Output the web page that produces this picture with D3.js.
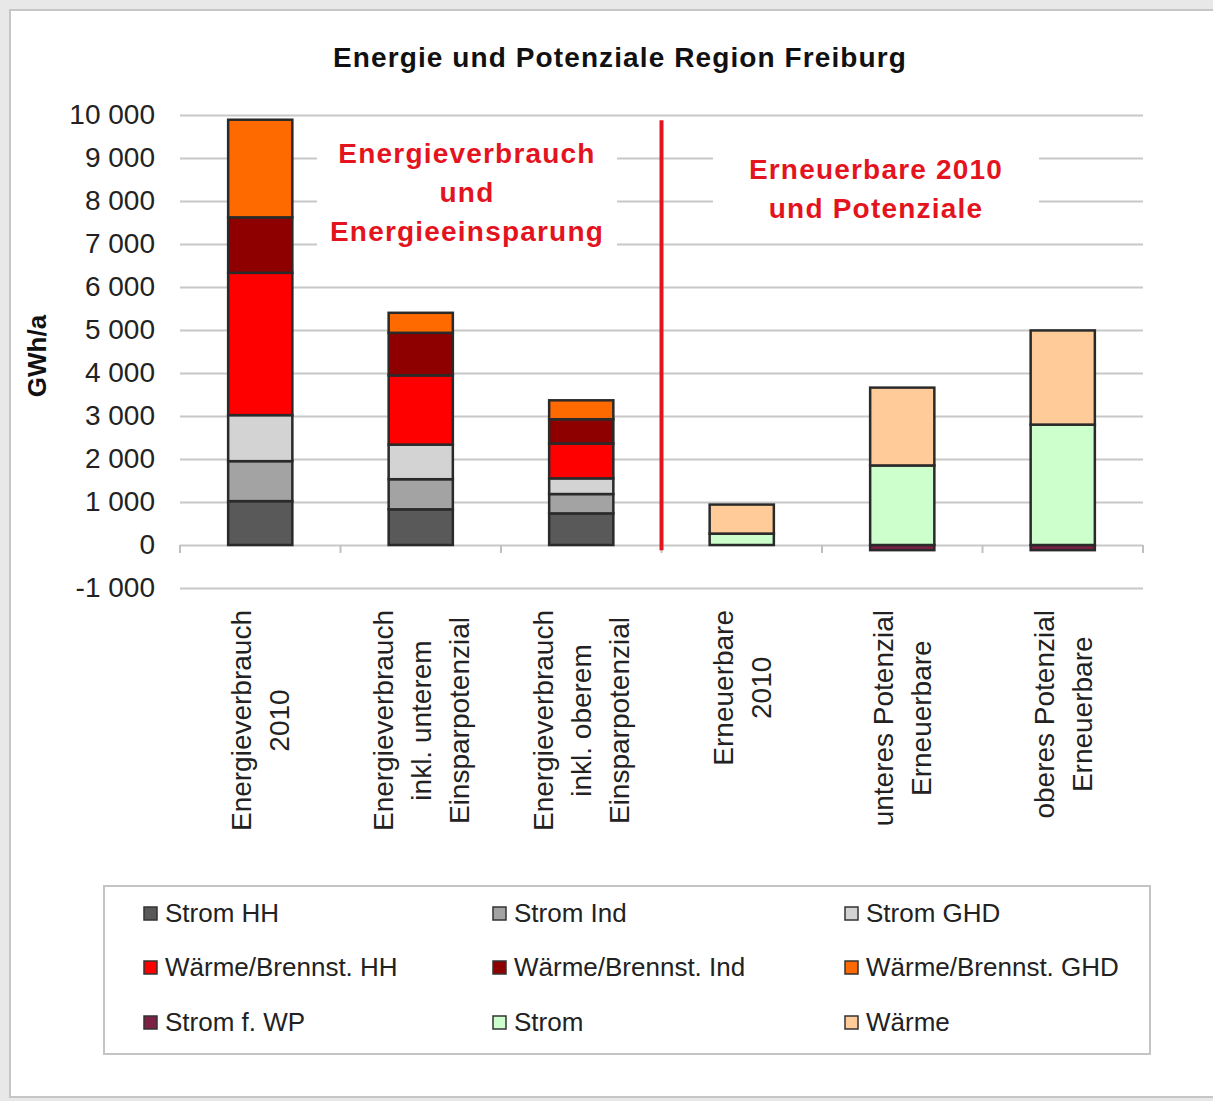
<!doctype html>
<html>
  <head>
    <meta charset="utf-8">
    <script src="https://cdnjs.cloudflare.com/ajax/libs/d3/7.8.5/d3.min.js"></script>
    <style>
      body { margin: 0; background: #e8e8e8; }
      svg { display: block; font-family: "Liberation Sans", Arial, sans-serif; }
    </style>
  </head>
  <body>
    <svg id="chart" width="1213" height="1101"></svg>
    <script>
      // categories (line breaks as in the original axis labels)
      var categories = [
        "Energieverbrauch\n2010",
        "Energieverbrauch\ninkl. unterem\nEinsparpotenzial",
        "Energieverbrauch\ninkl. oberem\nEinsparpotenzial",
        "Erneuerbare\n2010",
        "unteres Potenzial\nErneuerbare",
        "oberes Potenzial\nErneuerbare"
      ];

      // GWh/a
      var stromHH    = [1020,  830,  735,    0,    0,    0];
      var stromInd   = [ 930,  700,  450,    0,    0,    0];
      var stromGHD   = [1070,  805,  365,    0,    0,    0];
      var waermeHH   = [3310, 1610,  810,    0,    0,    0];
      var waermeInd  = [1290,  990,  565,    0,    0,    0];
      var waermeGHD  = [2270,  465,  440,    0,    0,    0];
      var stromWP    = [   0,    0,    0,    0, -120, -120];
      var stromEE    = [   0,    0,    0,  265, 1850, 2800];
      var waermeEE   = [   0,    0,    0,  675, 1810, 2190];

      var seriesNames = ["Strom HH", "Strom Ind", "Strom GHD",
        "Wärme/Brennst. HH", "Wärme/Brennst. Ind", "Wärme/Brennst. GHD",
        "Strom f. WP", "Strom", "Wärme"];
      var seriesValues = [stromHH, stromInd, stromGHD, waermeHH, waermeInd,
        waermeGHD, stromWP, stromEE, waermeEE];
      var seriesColors = ["#595959", "#a3a3a3", "#d3d3d3", "#ff0000", "#8e0000",
        "#ff6a00", "#7d2046", "#ccffcc", "#ffcc99"];

      var yTicks = [-1000, 0, 1000, 2000, 3000, 4000, 5000, 6000, 7000, 8000, 9000, 10000];

      var title = "Energie und Potenziale Region Freiburg";
      var yLabel = "GWh/a";
      var noteLeft = ["Energieverbrauch", "und", "Energieeinsparung"];
      var noteRight = ["Erneuerbare 2010", "und Potenziale"];

      // rows for d3.stack
      var table = categories.map(function(c, i) {
        var row = {cat: c};
        seriesNames.forEach(function(s, j) { row[s] = seriesValues[j][i]; });
        return row;
      });

      var svg = d3.select("#chart");
      var red = "#e3141e";

      svg.append("rect").attr("x", 10).attr("y", 10).attr("width", 1220).attr("height", 1087)
        .attr("fill", "#fff").attr("stroke", "#c6c6c6").attr("stroke-width", 2);

      var x = d3.scaleBand().domain(categories).range([180, 1143]).padding(0);
      var y = d3.scaleLinear().domain([-1000, 10000]).range([588, 115]);
      var barW = x.bandwidth() * 0.4;

      var fmt = d3.formatLocale({decimal: ",", thousands: " ", grouping: [3], currency: ["", ""], minus: "-"}).format(",d");

      // gridlines + tick labels
      var yAxis = d3.axisLeft(y).tickValues(yTicks).tickFormat(fmt)
        .tickSize(-(1143 - 180)).tickPadding(25);
      var gy = svg.append("g").attr("transform", "translate(180,0)").call(yAxis);
      gy.select(".domain").remove();
      gy.selectAll(".tick line").attr("stroke", "#c8c8c8").attr("stroke-width", 2);
      gy.selectAll(".tick text").attr("fill", "#222").style("font-size", "28px");

      // category tick marks on the zero line
      var edges = categories.map(function(c) { return x(c); }).concat([x.range()[1]]);
      svg.append("g").selectAll("line").data(edges).join("line")
        .attr("x1", function(d) { return d; }).attr("x2", function(d) { return d; })
        .attr("y1", y(0)).attr("y2", y(0) + 8)
        .attr("stroke", "#c0c0c0").attr("stroke-width", 2);

      // stacked bars
      var stack = d3.stack().keys(seriesNames).offset(d3.stackOffsetDiverging);
      var layers = stack(table);
      svg.append("g").selectAll("g").data(layers).join("g")
        .attr("fill", function(d, i) { return seriesColors[i]; })
        .selectAll("rect")
        .data(function(d) { return d.filter(function(p) { return p[1] !== p[0]; }); })
        .join("rect")
          .attr("x", function(d) { return x(d.data.cat) + (x.bandwidth() - barW) / 2; })
          .attr("width", barW)
          .attr("y", function(d) { return y(Math.max(d[0], d[1])); })
          .attr("height", function(d) { return Math.abs(y(d[0]) - y(d[1])); })
          .attr("stroke", "#2a2a2a").attr("stroke-width", 2.5);

      // red divider between consumption and renewables
      svg.append("line")
        .attr("x1", x(categories[3])).attr("x2", x(categories[3]))
        .attr("y1", y(9880)).attr("y2", y(-120))
        .attr("stroke", red).attr("stroke-width", 4);

      // annotations on white boxes
      function note(lines, cx, cy, boxW, boxH) {
        var g = svg.append("g");
        g.append("rect").attr("x", cx - boxW / 2).attr("y", cy - boxH / 2)
          .attr("width", boxW).attr("height", boxH).attr("fill", "#fff");
        var lh = 39;
        g.selectAll("text").data(lines).join("text")
          .attr("x", cx)
          .attr("y", function(d, i) { return cy + (i - (lines.length - 1) / 2) * lh + 10; })
          .attr("text-anchor", "middle").attr("fill", red)
          .style("font-size", "28px").style("font-weight", "bold").style("letter-spacing", "1.2px")
          .text(function(d) { return d; });
      }
      note(noteLeft, 467, 192, 300, 125);
      note(noteRight, 876, 188, 326, 90);

      // title
      svg.append("text").attr("x", 620).attr("y", 67).attr("text-anchor", "middle")
        .style("font-size", "28px").style("font-weight", "bold").style("letter-spacing", "1.1px")
        .attr("fill", "#111").text(title);

      // y label
      svg.append("text").attr("transform", "translate(46,356) rotate(-90)")
        .attr("text-anchor", "middle").style("font-size", "26px").style("font-weight", "bold")
        .attr("fill", "#111").text(yLabel);

      // rotated multi-line category labels, block hangs from the top
      var labelTop = 610, lineGap = 38;
      var xl = svg.append("g").selectAll("g").data(categories).join("g");
      xl.each(function(c) {
        var lines = c.split("\n");
        var g = d3.select(this);
        var cx = x(c) + x.bandwidth() / 2;
        var texts = g.selectAll("text").data(lines).join("text")
          .style("font-size", "28px").attr("fill", "#222").attr("text-anchor", "middle")
          .text(function(d) { return d; });
        var maxLen = d3.max(texts.nodes(), function(n) { return n.getComputedTextLength(); });
        var cy = labelTop + maxLen / 2;
        texts.attr("transform", function(d, i) {
          var lx = cx + (i - (lines.length - 1) / 2) * lineGap + 10;
          return "translate(" + lx + "," + cy + ") rotate(-90)";
        });
      });

      // legend
      var lg = svg.append("g");
      lg.append("rect").attr("x", 104).attr("y", 886).attr("width", 1046).attr("height", 168)
        .attr("fill", "#fff").attr("stroke", "#c4c4c4").attr("stroke-width", 2);
      var colX = [144, 493, 845], rowY = [913, 967, 1022];
      var items = lg.selectAll("g.item").data(seriesNames).join("g").attr("class", "item")
        .attr("transform", function(d, i) {
          return "translate(" + colX[i % 3] + "," + rowY[Math.floor(i / 3)] + ")";
        });
      items.append("rect").attr("x", 0).attr("y", -6).attr("width", 13).attr("height", 13)
        .attr("fill", function(d, i) { return seriesColors[i]; })
        .attr("stroke", "#333").attr("stroke-width", 1.5);
      items.append("text").attr("x", 21).attr("y", 9).style("font-size", "26px").attr("fill", "#222")
        .text(function(d) { return d; });
    </script>
  </body>
</html>
